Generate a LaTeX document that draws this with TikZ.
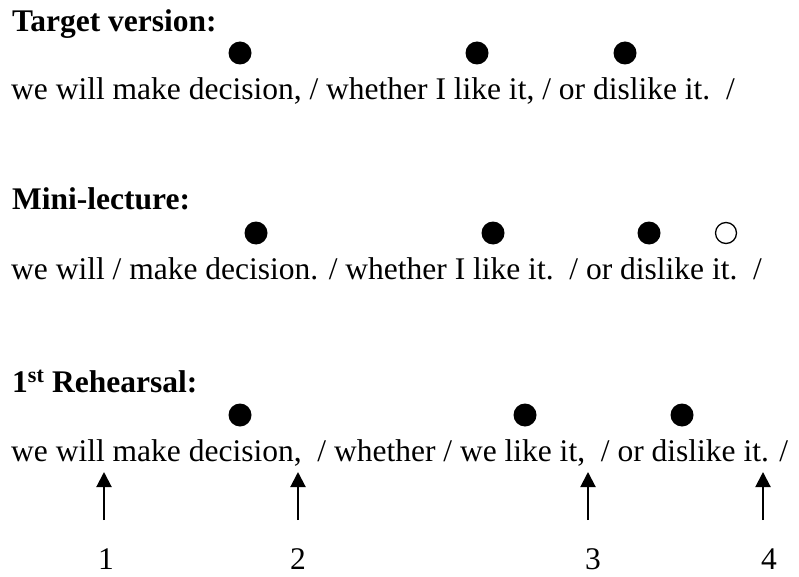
\documentclass[tikz,border=0pt]{standalone}
\usepackage{fontspec}
\setmainfont{Liberation Serif}
\usetikzlibrary{arrows.meta}
\begin{document}
\begin{tikzpicture}[x=1pt,y=-1pt,
  txt/.style={anchor=base west,inner sep=0pt,font=\fontsize{31.5}{36}\selectfont},
  head/.style={txt,font=\fontsize{31.5}{36}\selectfont\bfseries},
  num/.style={anchor=base,inner sep=0pt,font=\fontsize{31.5}{36}\selectfont},
  stress/.style={circle,fill=black,inner sep=0pt,minimum size=23pt},
  openstress/.style={circle,draw=black,line width=1.3pt,inner sep=0pt,minimum size=21pt},
  pointer/.style={line width=2pt,-{Triangle[width=15pt,length=15pt]}}]
\useasboundingbox (0,0) rectangle (799,577);

% Target version
\node[head] (h1) at (12,32) {Target version:};
\node[stress] (d11) at (240,53) {};
\node[stress] (d12) at (477,53) {};
\node[stress] (d13) at (625,53) {};
\node[txt] (t1) at (11,100) {we will make decision, / whether I like it, / or dislike it.\ \ /};

% Mini-lecture
\node[head] (h2) at (12,210) {Mini-lecture:};
\node[stress] (d21) at (256,233) {};
\node[stress] (d22) at (493,233) {};
\node[stress] (d23) at (649,233) {};
\node[openstress] (d24) at (726,233) {};
\node[txt] (t2) at (11,279) {we will / make decision. / whether I like it.\ \ / or dislike it.\ \ /};

% 1st Rehearsal
\node[head] (h3) at (12,392) {1\textsuperscript{st} Rehearsal:};
\node[stress] (d31) at (240,415) {};
\node[stress] (d32) at (525,415) {};
\node[stress] (d33) at (682,415) {};
\node[txt] (t3) at (11,461) {we will make decision,\ \ / whether / we like it,\ \ / or dislike it. /};

% Numbered pointers
\node[num] (n1) at (106,569) {1};
\node[num] (n2) at (298,569) {2};
\node[num] (n3) at (593,569) {3};
\node[num] (n4) at (769,569) {4};
\coordinate (a1) at (104,520); \coordinate (b1) at (104,472);
\coordinate (a2) at (298,520); \coordinate (b2) at (298,472);
\coordinate (a3) at (588,520); \coordinate (b3) at (588,472);
\coordinate (a4) at (763,520); \coordinate (b4) at (763,472);
\draw[pointer] (a1) -- (b1);
\draw[pointer] (a2) -- (b2);
\draw[pointer] (a3) -- (b3);
\draw[pointer] (a4) -- (b4);
\end{tikzpicture}
\end{document}
